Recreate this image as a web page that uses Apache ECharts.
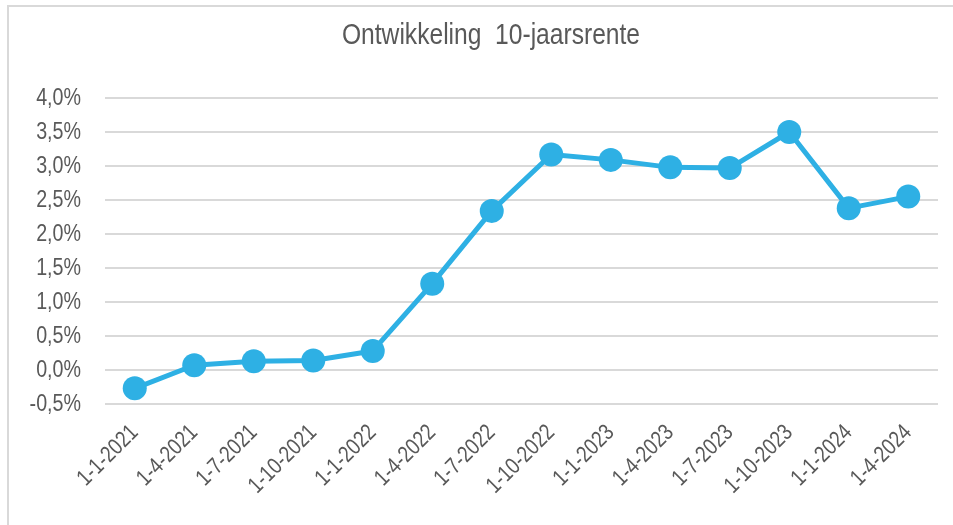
<!DOCTYPE html>
<html>
<head>
<meta charset="utf-8">
<script src="https://cdn.jsdelivr.net/npm/echarts@6/dist/echarts.min.js"></script>
<style>
html,body{margin:0;padding:0;background:#fff;}
#c{width:953px;height:525px;}
</style>
</head>
<body>
<div id="c"></div>
<script>
const categories = ['1-1-2021','1-4-2021','1-7-2021','1-10-2021','1-1-2022','1-4-2022','1-7-2022','1-10-2022','1-1-2023','1-4-2023','1-7-2023','1-10-2023','1-1-2024','1-4-2024'];
const rente = [-0.27, 0.07, 0.13, 0.14, 0.28, 1.27, 2.34, 3.17, 3.09, 2.98, 2.97, 3.50, 2.38, 2.55];
const titleText = 'Ontwikkeling  10-jaarsrente';

const FONT = '"Liberation Sans", Arial, sans-serif';
const NARROW = 0.82; // horizontal compression to mimic a narrow typeface
const chart = echarts.init(document.getElementById('c'), null, {renderer:'canvas'});
chart.setOption({
  animation:false,
  backgroundColor:'#fff',
  graphic:[{
    type:'rect', silent:true, z:-10,
    shape:{x:8,y:6,width:1200,height:1200},
    style:{fill:'none',stroke:'#d9d9d9',lineWidth:2}
  }],
  title:{
    text:titleText,
    left:486, top:16, textAlign:'center',
    textStyle:{fontFamily:FONT,fontSize:30,fontWeight:'normal',color:'#595959'}
  },
  grid:{left:105,right:15,top:98,bottom:121,containLabel:false},
  xAxis:{
    type:'category',
    data:categories,
    boundaryGap:true,
    axisLine:{show:false},
    axisTick:{show:false},
    axisLabel:{rotate:45,margin:25,interval:0,fontFamily:FONT,fontSize:23,color:'#595959'}
  },
  yAxis:{
    type:'value',
    min:-0.5,max:4,interval:0.5,
    axisLine:{show:false},
    axisTick:{show:false},
    axisLabel:{margin:24,fontFamily:FONT,fontSize:24,color:'#595959',
      formatter:v=>v.toFixed(1).replace('.',',')+'%'},
    splitLine:{lineStyle:{color:'#d9d9d9',width:2}}
  },
  series:[{
    type:'line',
    data:rente,
    symbol:'circle',
    symbolSize:24,
    lineStyle:{color:'#2eb0e4',width:5},
    itemStyle:{color:'#2eb0e4'}
  }]
});

// compress the text glyphs horizontally (along their own baseline)
function narrowTexts(){
  const zr = chart.getZr();
  const list = zr.storage.getDisplayList(true);
  const done = new Set();
  list.forEach(el=>{
    if (el.type !== 'tspan') return;
    const host = (el.parent && el.parent.type === 'text') ? el.parent : el;
    if (done.has(host)) return;
    done.add(host);
    host.scaleX = NARROW;
    host.markRedraw && host.markRedraw();
  });
  zr.refreshImmediately();
}
narrowTexts();
</script>
</body>
</html>
